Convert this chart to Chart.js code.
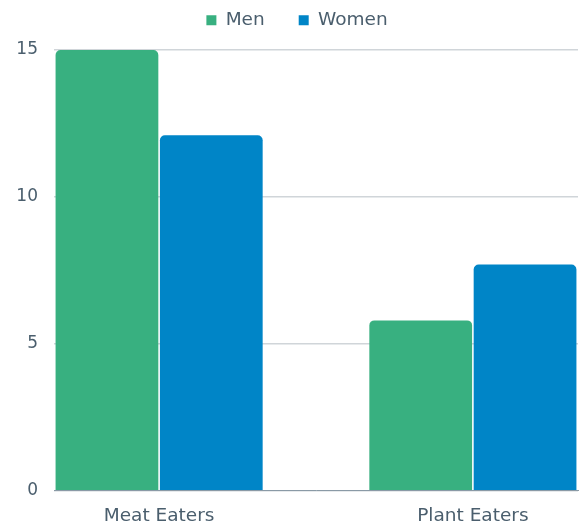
<!DOCTYPE html>
<html>
<head>
<meta charset="utf-8">
<script src="https://cdn.jsdelivr.net/npm/chart.js@4"></script>
<style>
  html, body { margin: 0; padding: 0; background: #fff; }
  #wrap { width: 585px; height: 523px; }
</style>
</head>
<body>
<div id="wrap"><canvas id="dietChart"></canvas></div>
<script>
// Chart data
const categories = ['Meat Eaters', 'Plant Eaters'];
const menValues = [15, 5.8];
const womenValues = [12.1, 7.7];
const yTicks = [0, 5, 10, 15];

const textColor = '#4a5e6d';
const fontFamily = '"DejaVu Sans", sans-serif';

// points placed on a numeric x scale so the groups sit where the original had them
const toPoints = (values) => values.map((v, i) => ({ x: i, y: v }));

const ctx = document.getElementById('dietChart').getContext('2d');
const dietChart = new Chart(ctx, {
    type: 'bar',
    data: {
        datasets: [{
            label: 'Men',
            data: toPoints(menValues),
            backgroundColor: '#38b080',
            borderRadius: 5,
            categoryPercentage: 0.665,
            barPercentage: 0.985
        }, {
            label: 'Women',
            data: toPoints(womenValues),
            backgroundColor: '#0085c7',
            borderRadius: 5,
            categoryPercentage: 0.665,
            barPercentage: 0.985
        }]
    },
    options: {
        responsive: true,
        maintainAspectRatio: false,
        animation: false,
        layout: {
            padding: { left: 16, right: 7, top: -23, bottom: -18 }
        },
        scales: {
            x: {
                type: 'linear',
                offset: false,
                min: -0.335,
                max: categories.length - 1 + 0.335,
                grid: { display: false, offset: false, drawTicks: false },
                border: { display: true, color: '#8a9aa6', width: 1 },
                afterBuildTicks: (scale) => {
                    scale.ticks = categories.map((c, i) => ({ value: i }));
                },
                ticks: {
                    color: textColor,
                    font: { family: fontFamily, size: 18.5 },
                    padding: 14,
                    maxRotation: 0,
                    callback: (value) => categories[value]
                }
            },
            y: {
                min: 0,
                max: 15.36,
                afterBuildTicks: (scale) => {
                    scale.ticks = yTicks.map(v => ({ value: v }));
                },
                afterFit: (scale) => { scale.width = 38; },
                grid: { color: '#d0d5d9', lineWidth: 1.5, drawTicks: false },
                border: { display: false },
                ticks: {
                    color: textColor,
                    font: { family: fontFamily, size: 17 },
                    padding: 16
                }
            }
        },
        plugins: {
            legend: {
                display: true,
                position: 'top',
                labels: {
                    color: textColor,
                    font: { family: fontFamily, size: 18.5 },
                    boxWidth: 10,
                    boxHeight: 10,
                    padding: 34
                }
            },
            tooltip: { enabled: false }
        }
    }
});
</script>
</body>
</html>
